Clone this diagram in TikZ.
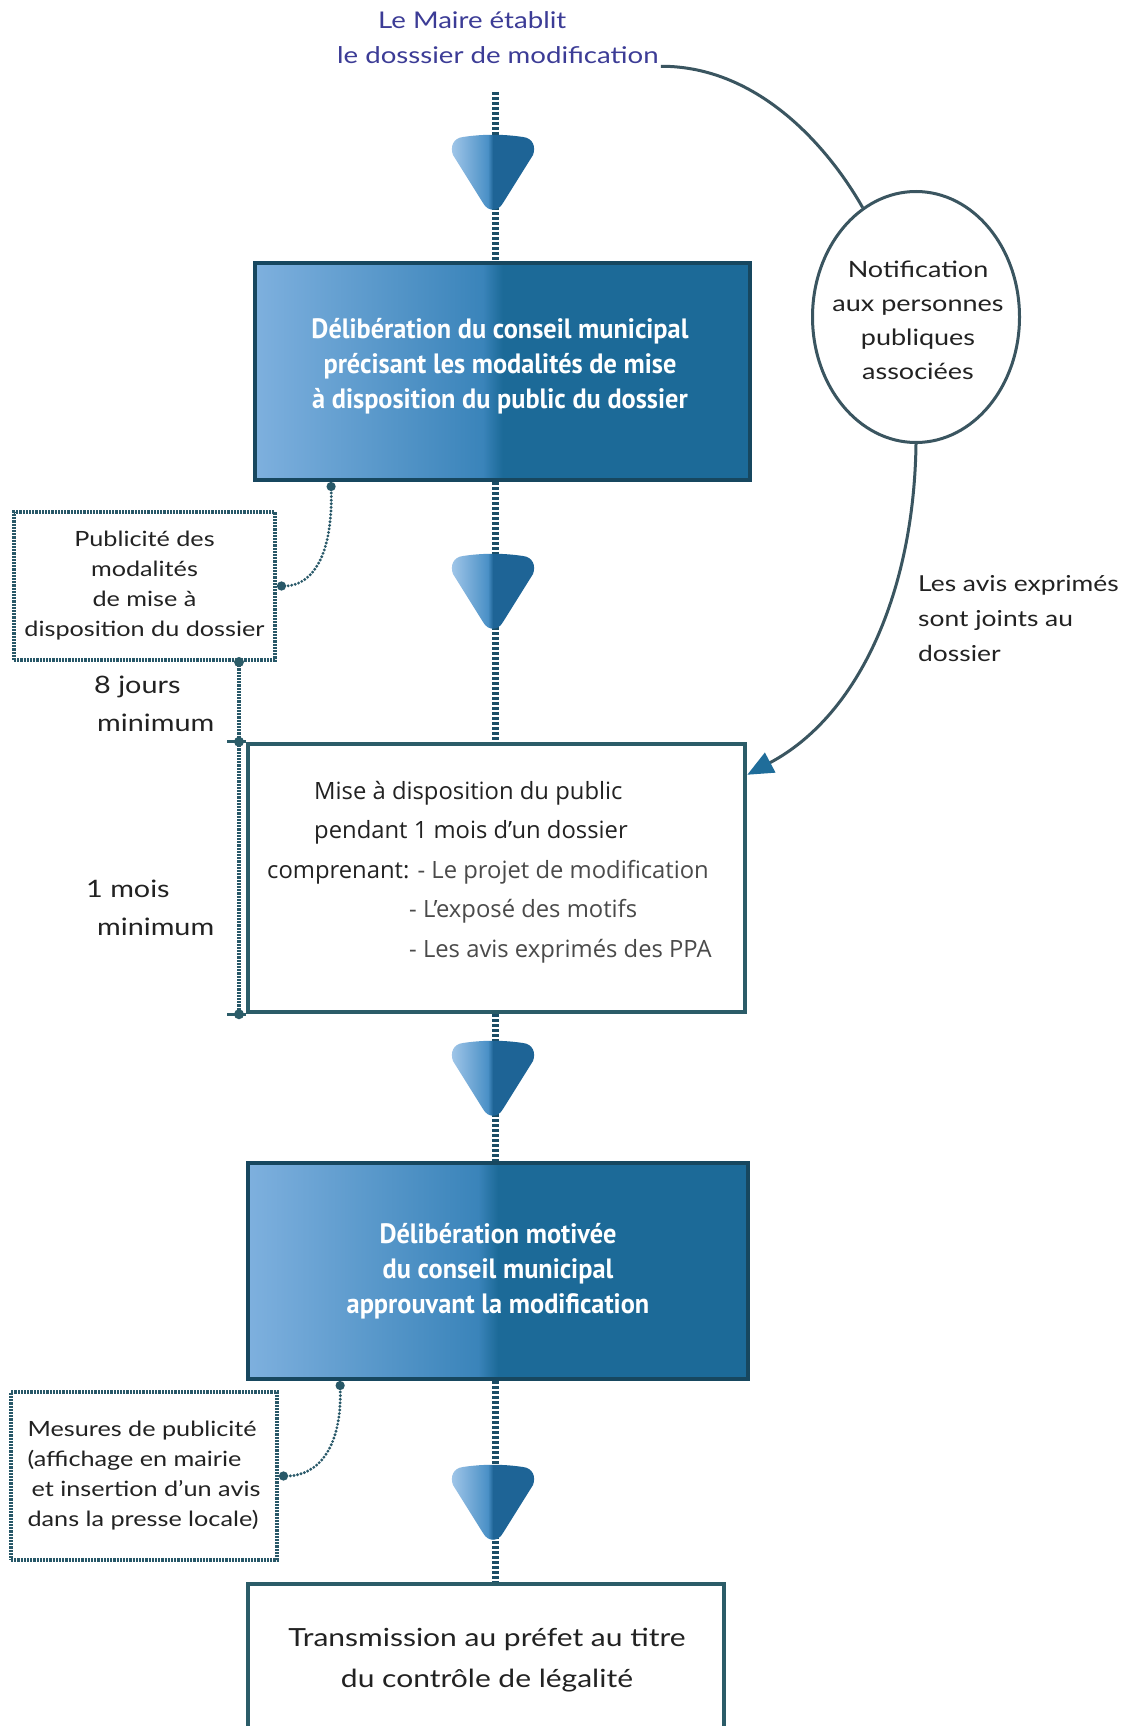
\documentclass[tikz,border=0pt]{standalone}
\usepackage{fontspec}
\setmainfont{Lato}
\newfontfamily\lblfont[FakeStretch=1.2]{Lato}
\newfontfamily\boxfont{Open Sans}
\newfontfamily\condfont[FakeStretch=0.94]{PT Sans}
\usetikzlibrary{shapes.geometric,arrows.meta}

\definecolor{axisc}{HTML}{1C4E66}
\definecolor{bordc}{HTML}{2B5C68}
\definecolor{dotcol}{HTML}{285868}
\definecolor{darkb}{HTML}{17475F}
\definecolor{titlec}{HTML}{3C3C96}
\definecolor{arrc}{HTML}{1F6D9A}
\definecolor{linec}{HTML}{3A5560}
\definecolor{txtc}{HTML}{222222}
\definecolor{listc}{HTML}{4A4A4A}
\definecolor{bA}{HTML}{7EB0DE}
\definecolor{bB}{HTML}{3A84BA}
\definecolor{bC}{HTML}{1C6A98}
\definecolor{dA}{HTML}{A4C8EA}
\definecolor{dB}{HTML}{4A90C6}
\definecolor{dC}{HTML}{1E6496}

\pgfdeclarehorizontalshading{boxshade}{100bp}{color(0bp)=(bA); color(25bp)=(bA); color(48bp)=(bB); color(50bp)=(bC); color(75bp)=(bC); color(100bp)=(bC)}
\pgfdeclarehorizontalshading{dropshade}{100bp}{color(0bp)=(dA); color(25bp)=(dA); color(47bp)=(dB); color(50bp)=(dC); color(75bp)=(dC); color(100bp)=(dC)}

\tikzset{
  darkbox/.style={draw=darkb, line width=4pt, shading=boxshade, inner sep=0pt},
  darktext/.style={text=white, font=\condfont\bfseries\fontsize{28}{35}\selectfont, align=center, inner sep=0pt},
  whitebox/.style={draw=bordc, line width=4.5pt, fill=white, inner sep=0pt},
  dotbox/.style={draw=dotcol, line width=4pt, dash pattern=on 2.2pt off 1pt, fill=white,
    inner sep=0pt, text=txtc, font=\lblfont\fontsize{21}{30}\selectfont},
  lbl/.style={text=txtc, font=\lblfont\fontsize{24}{38}\selectfont, inner sep=0pt},
  dotc/.style={draw=dotcol, line width=3.2pt, line cap=round, dash pattern=on 0pt off 3.6pt},
  timec/.style={draw=dotcol, line width=4pt, dash pattern=on 2.2pt off 1pt},
  thinc/.style={draw=linec, line width=3pt},
  axisline/.style={draw=axisc, line width=7pt, dash pattern=on 3pt off 2pt},
  droplet/.pic={\shade[shading=dropshade] (-30,0) .. controls (-10,-3) and (10,-3) .. (30,0)
      .. controls (40,1) and (43,10) .. (40,18) -- (10,66) .. controls (5,75) and (-5,75) .. (-10,66)
      -- (-40,18) .. controls (-43,10) and (-40,1) .. (-30,0) -- cycle;}
}

\begin{document}
\begin{tikzpicture}[x=1pt,y=-1pt]
\useasboundingbox (0,0) rectangle (1130,1726);
\clip (0,0) rectangle (1130,1726);
\fill[white] (0,0) rectangle (1130,1726);

% title
\node[anchor=west, align=left, text=titlec, font=\lblfont\fontsize{23}{35}\selectfont, inner sep=2pt] (title) at (335,38)
  {\hspace*{41pt}Le Maire établit\\le dosssier de modification};

% boxes
\node[darkbox, minimum width=495pt, minimum height=217pt] (b1) at (502.5,371.5) {};
\node[darktext] (b1t) at (500,366)
  {Délibération du conseil municipal\\précisant les modalités de mise\\à disposition du public du dossier};
\node[whitebox, minimum width=497pt, minimum height=268pt] (b3) at (496.5,878) {};
\node[darkbox, minimum width=500pt, minimum height=216pt] (b5) at (498,1271) {};
\node[darktext] (b5t) at (498,1271)
  {Délibération motivée\\du conseil municipal\\approuvant la modification};
\node[whitebox, minimum width=476pt, minimum height=147pt] (b7) at (486,1657.5) {};
\node[lbl, align=center, font=\lblfont\fontsize{25}{41}\selectfont] (b7t) at (487,1660)
  {Transmission au préfet au titre\\du contrôle de légalité};

\node[anchor=west, align=left, inner sep=0pt, text=txtc, font=\boxfont\fontsize{23.8}{39.6}\selectfont] (b3t) at (267,872)
  {\hspace*{47pt}Mise à disposition du public\\
   \hspace*{47pt}pendant 1 mois d’un dossier\\
   comprenant: \textcolor{listc}{- Le projet de modification}\\
   \hspace*{142pt}\textcolor{listc}{- L’exposé des motifs}\\
   \hspace*{142pt}\textcolor{listc}{- Les avis exprimés des PPA}};

% left dotted boxes
\node[dotbox, minimum width=261pt, minimum height=148pt, align=center] (lb1) at (144.5,586)
  {Publicité des\\modalités\\de mise à\\disposition du dossier};
\node[dotbox, minimum width=266pt, minimum height=168pt, align=left] (lb2) at (144,1476)
  {Mesures de publicité\\(affichage en mairie\\\hspace*{4pt}et insertion d’un avis\\dans la presse locale)};

% ellipse
\node[ellipse, draw=linec, line width=3pt, minimum width=207pt, minimum height=251pt, inner sep=0pt] (ell) at (916,317) {};
\node[align=center, inner sep=0pt, text=txtc, font=\lblfont\fontsize{22.5}{34}\selectfont] (ellt) at (918,320)
  {Notification\\aux personnes\\publiques\\associées};

% labels
\node[lbl, anchor=north west, align=left, font=\lblfont\fontsize{22}{35}\selectfont] (avis) at (918,575)
  {Les avis exprimés\\sont joints au\\dossier};
\node[lbl, anchor=west, align=left] (l8) at (94,704) {8 jours\\\hspace*{3pt}minimum};
\node[lbl, anchor=west, align=left] (l1) at (86,908) {1 mois\\\hspace*{11pt}minimum};

% main axis
\coordinate (top) at (495,92);
\draw[axisline] (top) -- (top |- b1.north);
\draw[axisline] (top |- b1.south) -- (top |- b3.north);
\draw[axisline] (top |- b3.south) -- (top |- b5.north);
\draw[axisline] (top |- b5.south) -- (top |- b7.north);
\pic at (493,137) {droplet};
\pic at (493,556) {droplet};
\pic at (493,1043) {droplet};
\pic at (493,1467) {droplet};

% curved connectors
\draw[thinc] (title.south east) .. controls (760,66) and (830,150) .. (ell.116);
\draw[thinc, -{Triangle[length=26pt,width=22pt,color=arrc,fill=arrc]}] (ell.south) .. controls (914,590) and (860,715) .. ([yshift=-33pt]b3.north east);

% dotted connectors
\draw[dotc, {Circle[length=9pt]}-{Circle[length=9pt]}] ([xshift=78pt]b1.south west) .. controls (333,560) and (310,586) .. (lb1.east);
\draw[dotc, {Circle[length=9pt]}-{Circle[length=9pt]}] ([xshift=94pt]b5.south west) .. controls (342,1445) and (320,1476) .. (lb2.east);

% timeline
\coordinate (s1) at ([xshift=-38pt]lb1.south east);
\coordinate (t1) at (s1 |- b3.north west);
\coordinate (t2) at (s1 |- b3.south west);
\draw[timec] (s1) -- (t2);
\draw[draw=bordc, line width=3pt] ([xshift=-12pt]t1) -- (b3.north west);
\draw[draw=bordc, line width=3pt] ([xshift=-12pt]t2) -- (b3.south west);
\fill[bordc] (s1) circle (5pt);
\fill[bordc] (t1) circle (5pt);
\fill[bordc] (t2) circle (5pt);
\end{tikzpicture}
\end{document}
